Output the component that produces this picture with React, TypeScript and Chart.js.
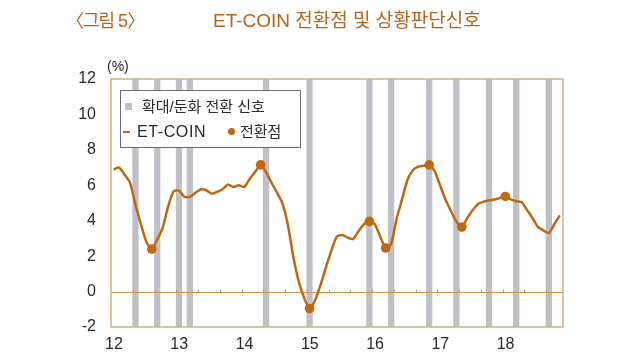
import React, { useEffect, useRef } from 'react';
import { Chart, registerables } from 'chart.js';

Chart.register(...registerables);

// ---- data ----
const yearLabels = ['12', '13', '14', '15', '16', '17', '18'];
// monthly ET-COIN values, Jan 2012 .. Nov 2018 (%)
const etcoin = [
  6.9, 7.0, 6.6, 6.15, 4.9, 3.8, 2.8, 2.4, 2.95, 3.6, 4.8, 5.65,
  5.7, 5.35, 5.35, 5.57, 5.76, 5.72, 5.52, 5.63, 5.78, 6.05, 5.9, 6.0,
  5.9, 6.35, 6.76, 7.15, 6.75, 6.15, 5.6, 5.0, 3.8, 2.0, 0.6, -0.35,
  -0.96, -0.5, 0.35, 1.35, 2.3, 3.1, 3.2, 3.05, 2.97, 3.4, 3.8, 3.96,
  3.8, 3.1, 2.46, 2.7, 4.1, 5.2, 6.3, 6.85, 7.05, 7.1, 7.15, 6.8,
  6.0, 5.2, 4.55, 3.95, 3.64, 4.15, 4.6, 4.95, 5.07, 5.15, 5.2, 5.28,
  5.37, 5.2, 5.1, 5.05, 4.6, 4.15, 3.65, 3.45, 3.3, 3.8, 4.3,
];
// month indices (0 = Jan 2012) of turning points
const turningMonths = [7, 27, 36, 47, 50, 58, 64, 72];
// month indices of expansion/slowdown switch signals
const signalMonths = [4, 8, 12, 14, 28, 36, 47, 51, 58, 63, 69, 74, 80];
const yMin = -2;
const yMax = 12;
const yStep = 2;
const xMax = 83.1;
const monthsPerYear = 12;
const minorTickMonths = 4;

// ---- styles ----
const LINE = '#c1670f';
const BAR = '#bfc0c6';
const FRAME = '#cfb089';
const ZERO = '#cf9350';
const TITLE = '#b8641c';
const TEXT = '#2a2a2a';
const FONT = '"Liberation Sans", "Noto Sans CJK KR", sans-serif';

export default function App() {
  const ref = useRef<HTMLCanvasElement>(null);

  useEffect(() => {
    if (!ref.current) return;
    const lineData = etcoin.map((v, i) => ({ x: i + 0.5, y: v }));
    const dotData = turningMonths.map((m) => ({ x: m + 0.5, y: etcoin[m] }));
    const barData = signalMonths.map((m) => ({ x: m + 0.5, y: [yMin, yMax] }));

    const overlay = {
      id: 'overlay',
      afterDatasetDraw(chart: any, args: any) {
        if (args.index !== 2) return;
        const { ctx, chartArea, scales } = chart;
        const xs = scales.x;
        const ys = scales.y;
        const y0 = Math.round(ys.getPixelForValue(0)) + 0.5;
        ctx.save();
        ctx.strokeStyle = ZERO;
        ctx.lineWidth = 1;
        ctx.beginPath();
        ctx.moveTo(chartArea.left, y0);
        ctx.lineTo(chartArea.right, y0);
        for (let m = minorTickMonths; m < xs.max; m += minorTickMonths) {
          const px = Math.round(xs.getPixelForValue(m)) + 0.5;
          ctx.moveTo(px, y0);
          ctx.lineTo(px, y0 - 3);
        }
        ctx.stroke();
        ctx.restore();
      },
      afterDraw(chart: any) {
        const { ctx, chartArea } = chart;
        ctx.save();
        ctx.strokeStyle = FRAME;
        ctx.lineWidth = 1.5;
        ctx.strokeRect(
          chartArea.left,
          chartArea.top,
          chartArea.right - chartArea.left,
          chartArea.bottom - chartArea.top
        );
        ctx.restore();
      },
    };

    const chart = new Chart(ref.current, {
      type: 'line',
      data: {
        datasets: [
          {
            type: 'line',
            label: '전환점',
            data: dotData,
            showLine: false,
            pointRadius: 4.8,
            pointBackgroundColor: LINE,
            pointBorderColor: LINE,
            pointBorderWidth: 0,
          } as any,
          {
            type: 'line',
            label: 'ET-COIN',
            data: lineData,
            borderColor: LINE,
            borderWidth: 2.5,
            pointRadius: 0,
            tension: 0.2,
            fill: false,
          } as any,
          {
            type: 'bar',
            label: '확대/둔화 전환 신호',
            data: barData,
            backgroundColor: BAR,
            borderWidth: 0,
            barThickness: 5.6,
            grouped: false,
          } as any,
        ],
      },
      options: {
        animation: false,
        responsive: false,
        events: [],
        layout: { padding: { top: 79, right: 77, bottom: 0, left: 0 } },
        plugins: {
          legend: { display: false },
          tooltip: { enabled: false },
          title: { display: false },
        },
        scales: {
          x: {
            type: 'linear',
            min: 0,
            max: xMax,
            offset: false,
            grid: { display: false, drawTicks: false },
            border: { display: false },
            afterFit: (s: any) => {
              s.height = 33;
            },
            ticks: {
              stepSize: monthsPerYear,
              includeBounds: false,
              autoSkip: false,
              maxRotation: 0,
              padding: 8,
              labelOffset: 3,
              color: TEXT,
              font: { family: FONT, size: 16 },
              callback: (v: any) => {
                const k = Number(v) / monthsPerYear;
                return Number.isInteger(k) ? yearLabels[k] ?? '' : '';
              },
            },
          },
          y: {
            min: yMin,
            max: yMax,
            grid: { display: false, drawTicks: false },
            border: { display: false },
            afterFit: (s: any) => {
              s.width = 111;
            },
            ticks: {
              stepSize: yStep,
              padding: 15,
              color: TEXT,
              font: { family: FONT, size: 16 },
            },
          },
        },
      } as any,
      plugins: [overlay],
    });
    return () => chart.destroy();
  }, []);

  const abs = (o: any) => ({ position: 'absolute' as const, ...o });

  return (
    <div style={abs({ left: 0, top: 0, width: 640, height: 360, background: '#fff', fontFamily: FONT })}>
      <canvas ref={ref} width={640} height={360} style={abs({ left: 0, top: 0, width: 640, height: 360 })} />
      <div style={abs({ left: 66, top: 9, height: 24, lineHeight: '24px', fontSize: 18, color: TITLE, whiteSpace: 'nowrap', letterSpacing: -1 })}>
        〈그림 5〉
      </div>
      <div style={abs({ left: 213, top: 9, height: 24, lineHeight: '24px', fontSize: 19, color: TITLE, whiteSpace: 'nowrap' })}>
        ET-COIN 전환점 및 상황판단신호
      </div>
      <div style={abs({ left: 107, top: 57, height: 18, lineHeight: '18px', fontSize: 14, color: TEXT, whiteSpace: 'nowrap' })}>
        (%)
      </div>
      <div
        style={abs({
          left: 120,
          top: 90,
          width: 179,
          height: 56,
          background: '#fff',
          border: '1px solid #6e6e6e',
          color: TEXT,
          fontSize: 15,
        })}
      >
        <div style={abs({ left: 4, top: 12, width: 7, height: 7, background: BAR })} />
        <div style={abs({ left: 21, top: 6, height: 20, lineHeight: '20px', whiteSpace: 'nowrap' })}>확대/둔화 전환 신호</div>
        <div style={abs({ left: 2, top: 40, width: 7, height: 2, background: LINE })} />
        <div style={abs({ left: 16, top: 31, height: 20, lineHeight: '20px', whiteSpace: 'nowrap', fontSize: 16, letterSpacing: 0.6 })}>ET-COIN</div>
        <div style={abs({ left: 107, top: 37, width: 7, height: 7, borderRadius: '50%', background: LINE })} />
        <div style={abs({ left: 119, top: 31, height: 20, lineHeight: '20px', whiteSpace: 'nowrap' })}>전환점</div>
      </div>
    </div>
  );
}
